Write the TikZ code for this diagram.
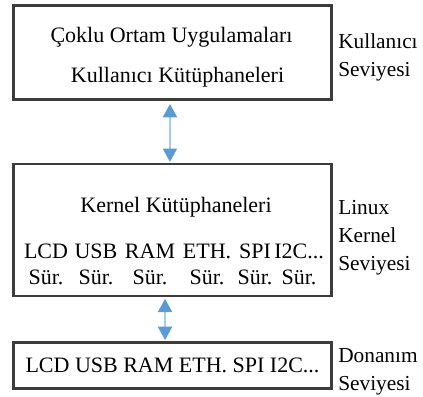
\documentclass[tikz,border=0pt]{standalone}
\usepackage{fontspec}
\setmainfont{LiberationSerif}[
  Extension=.ttf,
  UprightFont=*-Regular,
  BoldFont=*-Bold,
  ItalicFont=*-Italic,
  BoldItalicFont=*-BoldItalic]
\usetikzlibrary{arrows.meta,positioning}
\definecolor{boxGray}{HTML}{3C3C3C}
\definecolor{tipBlue}{HTML}{5B9BD5}
\definecolor{shaftBlue}{HTML}{A9CBEA}

\begin{document}
\begin{tikzpicture}
  [x=0.75pt,y=-0.75pt,
   lvlBox/.style={draw=boxGray,line width=2.2pt,minimum width=239pt},
   txtN/.style={font=\fontsize{16.5}{20}\selectfont,inner sep=0pt,anchor=base},
   sideN/.style={font=\fontsize{16}{21}\selectfont,inner sep=0pt,align=left,anchor=north west},
   busArrow/.style={draw=shaftBlue,line width=1.6pt,<->,
     >={Triangle[color=tipBlue,width=10.5pt,length=10pt]}},
  ]
  \useasboundingbox (0,0) rectangle (423,396);

  % the three levels
  \node[lvlBox,minimum height=71pt] (userBox) at (172.5,52.5) {};
  \node[lvlBox,minimum height=99pt] (kernBox) at (172.5,230) {};
  \node[lvlBox,minimum height=35pt,font=\fontsize{16.5}{20}\selectfont]
    (hwBox) at (172.5,365.5) {LCD USB RAM ETH. SPI I2C...};

  % user level
  \node[txtN] (appN) at (171.5,42) {Çoklu Ortam Uygulamaları};
  \node[txtN] (ulibN) at (177.5,82) {Kullanıcı Kütüphaneleri};

  % kernel level
  \node[txtN] (klibN) at (176,212) {Kernel Kütüphaneleri};
  \foreach \nm/\dev/\x in {lcd/LCD/46,usb/USB/96,ram/RAM/150,eth/{ETH.}/207,spi/SPI/255,iic/{I2C...}/299}
  {
    \node[txtN] (\nm) at (\x,258) {\dev};
    \node[txtN] (\nm-sur) at (\x,284) {Sür.};
  }

  % level names
  \node[sideN] (userLbl) at (338,33) {Kullanıcı\\Seviyesi};
  \node[sideN] (kernLbl) at (338,200) {Linux\\Kernel\\Seviyesi};
  \node[sideN] (hwLbl) at (338,348) {Donanım\\Seviyesi};

  % links between levels
  \draw[busArrow,shorten <=2pt,shorten >=0.5pt]
    ([xshift=-1.9pt]userBox.south) -- ([xshift=-1.9pt]kernBox.north);
  \draw[busArrow,shorten <=1pt,shorten >=0.5pt]
    ([xshift=-5.6pt]kernBox.south) -- ([xshift=-5.6pt]hwBox.north);
\end{tikzpicture}
\end{document}
